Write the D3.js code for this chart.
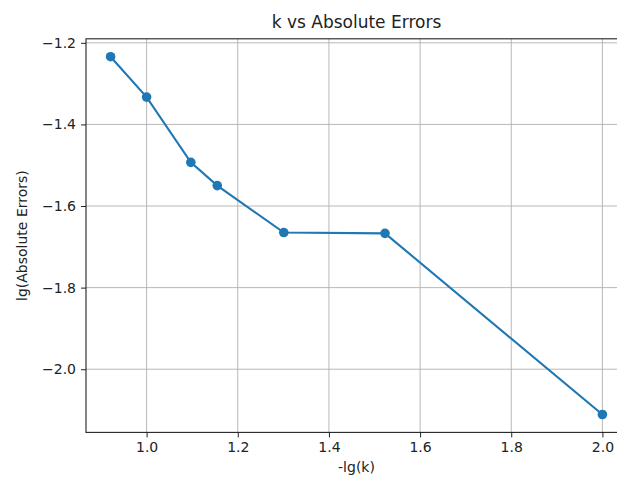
<!DOCTYPE html>
<html>
<head>
<meta charset="utf-8">
<script src="https://cdn.jsdelivr.net/npm/d3@7"></script>
<style>
  body { margin: 0; background: #fff; }
  svg { display: block; font-family: "DejaVu Sans", sans-serif; }
</style>
</head>
<body>
<svg id="chart"></svg>
<script>
// data
var negLgK = [0.921, 1.0, 1.097, 1.155, 1.301, 1.523, 2.0];
var lgErr = [-1.234, -1.333, -1.493, -1.550, -1.665, -1.667, -2.111];
var xTicks = [1.0, 1.2, 1.4, 1.6, 1.8, 2.0];
var yTicks = [-1.2, -1.4, -1.6, -1.8, -2.0];

var svgWidth = 617;
var svgHeight = 478;
var plotLeft = 86, plotRight = 627, plotTop = 38.8, plotBottom = 432.4;

var svg = d3.select('#chart')
    .attr("width", svgWidth)
    .attr("height", svgHeight);

// matplotlib style 5% margins around data
var xr = d3.extent(negLgK), yr = d3.extent(lgErr);
var xm = (xr[1] - xr[0]) * 0.05, ym = (yr[1] - yr[0]) * 0.05;

var x = d3.scaleLinear().domain([xr[0] - xm, xr[1] + xm]).range([plotLeft, plotRight]);
var y = d3.scaleLinear().domain([yr[0] - ym, yr[1] + ym]).range([plotBottom, plotTop]);

var fmt = d3.format(".1f");

// grid
svg.append("g")
    .selectAll(null)
    .data(xTicks)
    .enter()
    .append("line")
    .attr("x1", function(d) { return x(d); })
    .attr("x2", function(d) { return x(d); })
    .attr("y1", plotTop)
    .attr("y2", plotBottom)
    .attr("stroke", "#b0b0b0")
    .attr("stroke-width", 0.9);

svg.append("g")
    .selectAll(null)
    .data(yTicks)
    .enter()
    .append("line")
    .attr("x1", plotLeft)
    .attr("x2", plotRight)
    .attr("y1", function(d) { return y(d); })
    .attr("y2", function(d) { return y(d); })
    .attr("stroke", "#b0b0b0")
    .attr("stroke-width", 0.9);

// axes
var xAxis = svg.append("g")
    .attr("transform", "translate(0," + plotBottom + ")")
    .call(d3.axisBottom(x).tickValues(xTicks).tickFormat(fmt).tickSize(5).tickPadding(5));

var yAxis = svg.append("g")
    .attr("transform", "translate(" + plotLeft + ",0)")
    .call(d3.axisLeft(y).tickValues(yTicks).tickFormat(fmt).tickSize(5).tickPadding(5));

[xAxis, yAxis].forEach(function(a) {
    a.select(".domain").remove();
    a.selectAll("text")
        .attr("fill", "#222")
        .style("font-size", "14px")
        .style("font-family", "DejaVu Sans");
    a.selectAll("line").attr("stroke", "#222").attr("stroke-width", 1);
});

// spines
svg.append("rect")
    .attr("x", plotLeft)
    .attr("y", plotTop)
    .attr("width", plotRight - plotLeft)
    .attr("height", plotBottom - plotTop)
    .attr("fill", "none")
    .attr("stroke", "#222")
    .attr("stroke-width", 1.1);

// series
var pts = negLgK.map(function(d, i) { return [d, lgErr[i]]; });

svg.append("path")
    .datum(pts)
    .attr("fill", "none")
    .attr("stroke", "#1f77b4")
    .attr("stroke-width", 2.1)
    .attr("d", d3.line()
        .x(function(d) { return x(d[0]); })
        .y(function(d) { return y(d[1]); }));

svg.append("g")
    .selectAll(null)
    .data(pts)
    .enter()
    .append("circle")
    .attr("cx", function(d) { return x(d[0]); })
    .attr("cy", function(d) { return y(d[1]); })
    .attr("r", 4.8)
    .attr("fill", "#1f77b4");

// labels
svg.append("text")
    .attr("x", (plotLeft + plotRight) / 2)
    .attr("y", 28)
    .attr("text-anchor", "middle")
    .style("font-size", "17px")
    .attr("fill", "#222")
    .text("k vs Absolute Errors");

svg.append("text")
    .attr("x", (plotLeft + plotRight) / 2)
    .attr("y", 472)
    .attr("text-anchor", "middle")
    .style("font-size", "14px")
    .attr("fill", "#222")
    .text("-lg(k)");

svg.append("text")
    .attr("transform", "translate(27," + ((plotTop + plotBottom) / 2) + ") rotate(-90)")
    .attr("text-anchor", "middle")
    .style("font-size", "14px")
    .attr("fill", "#222")
    .text("lg(Absolute Errors)");
</script>
</body>
</html>
